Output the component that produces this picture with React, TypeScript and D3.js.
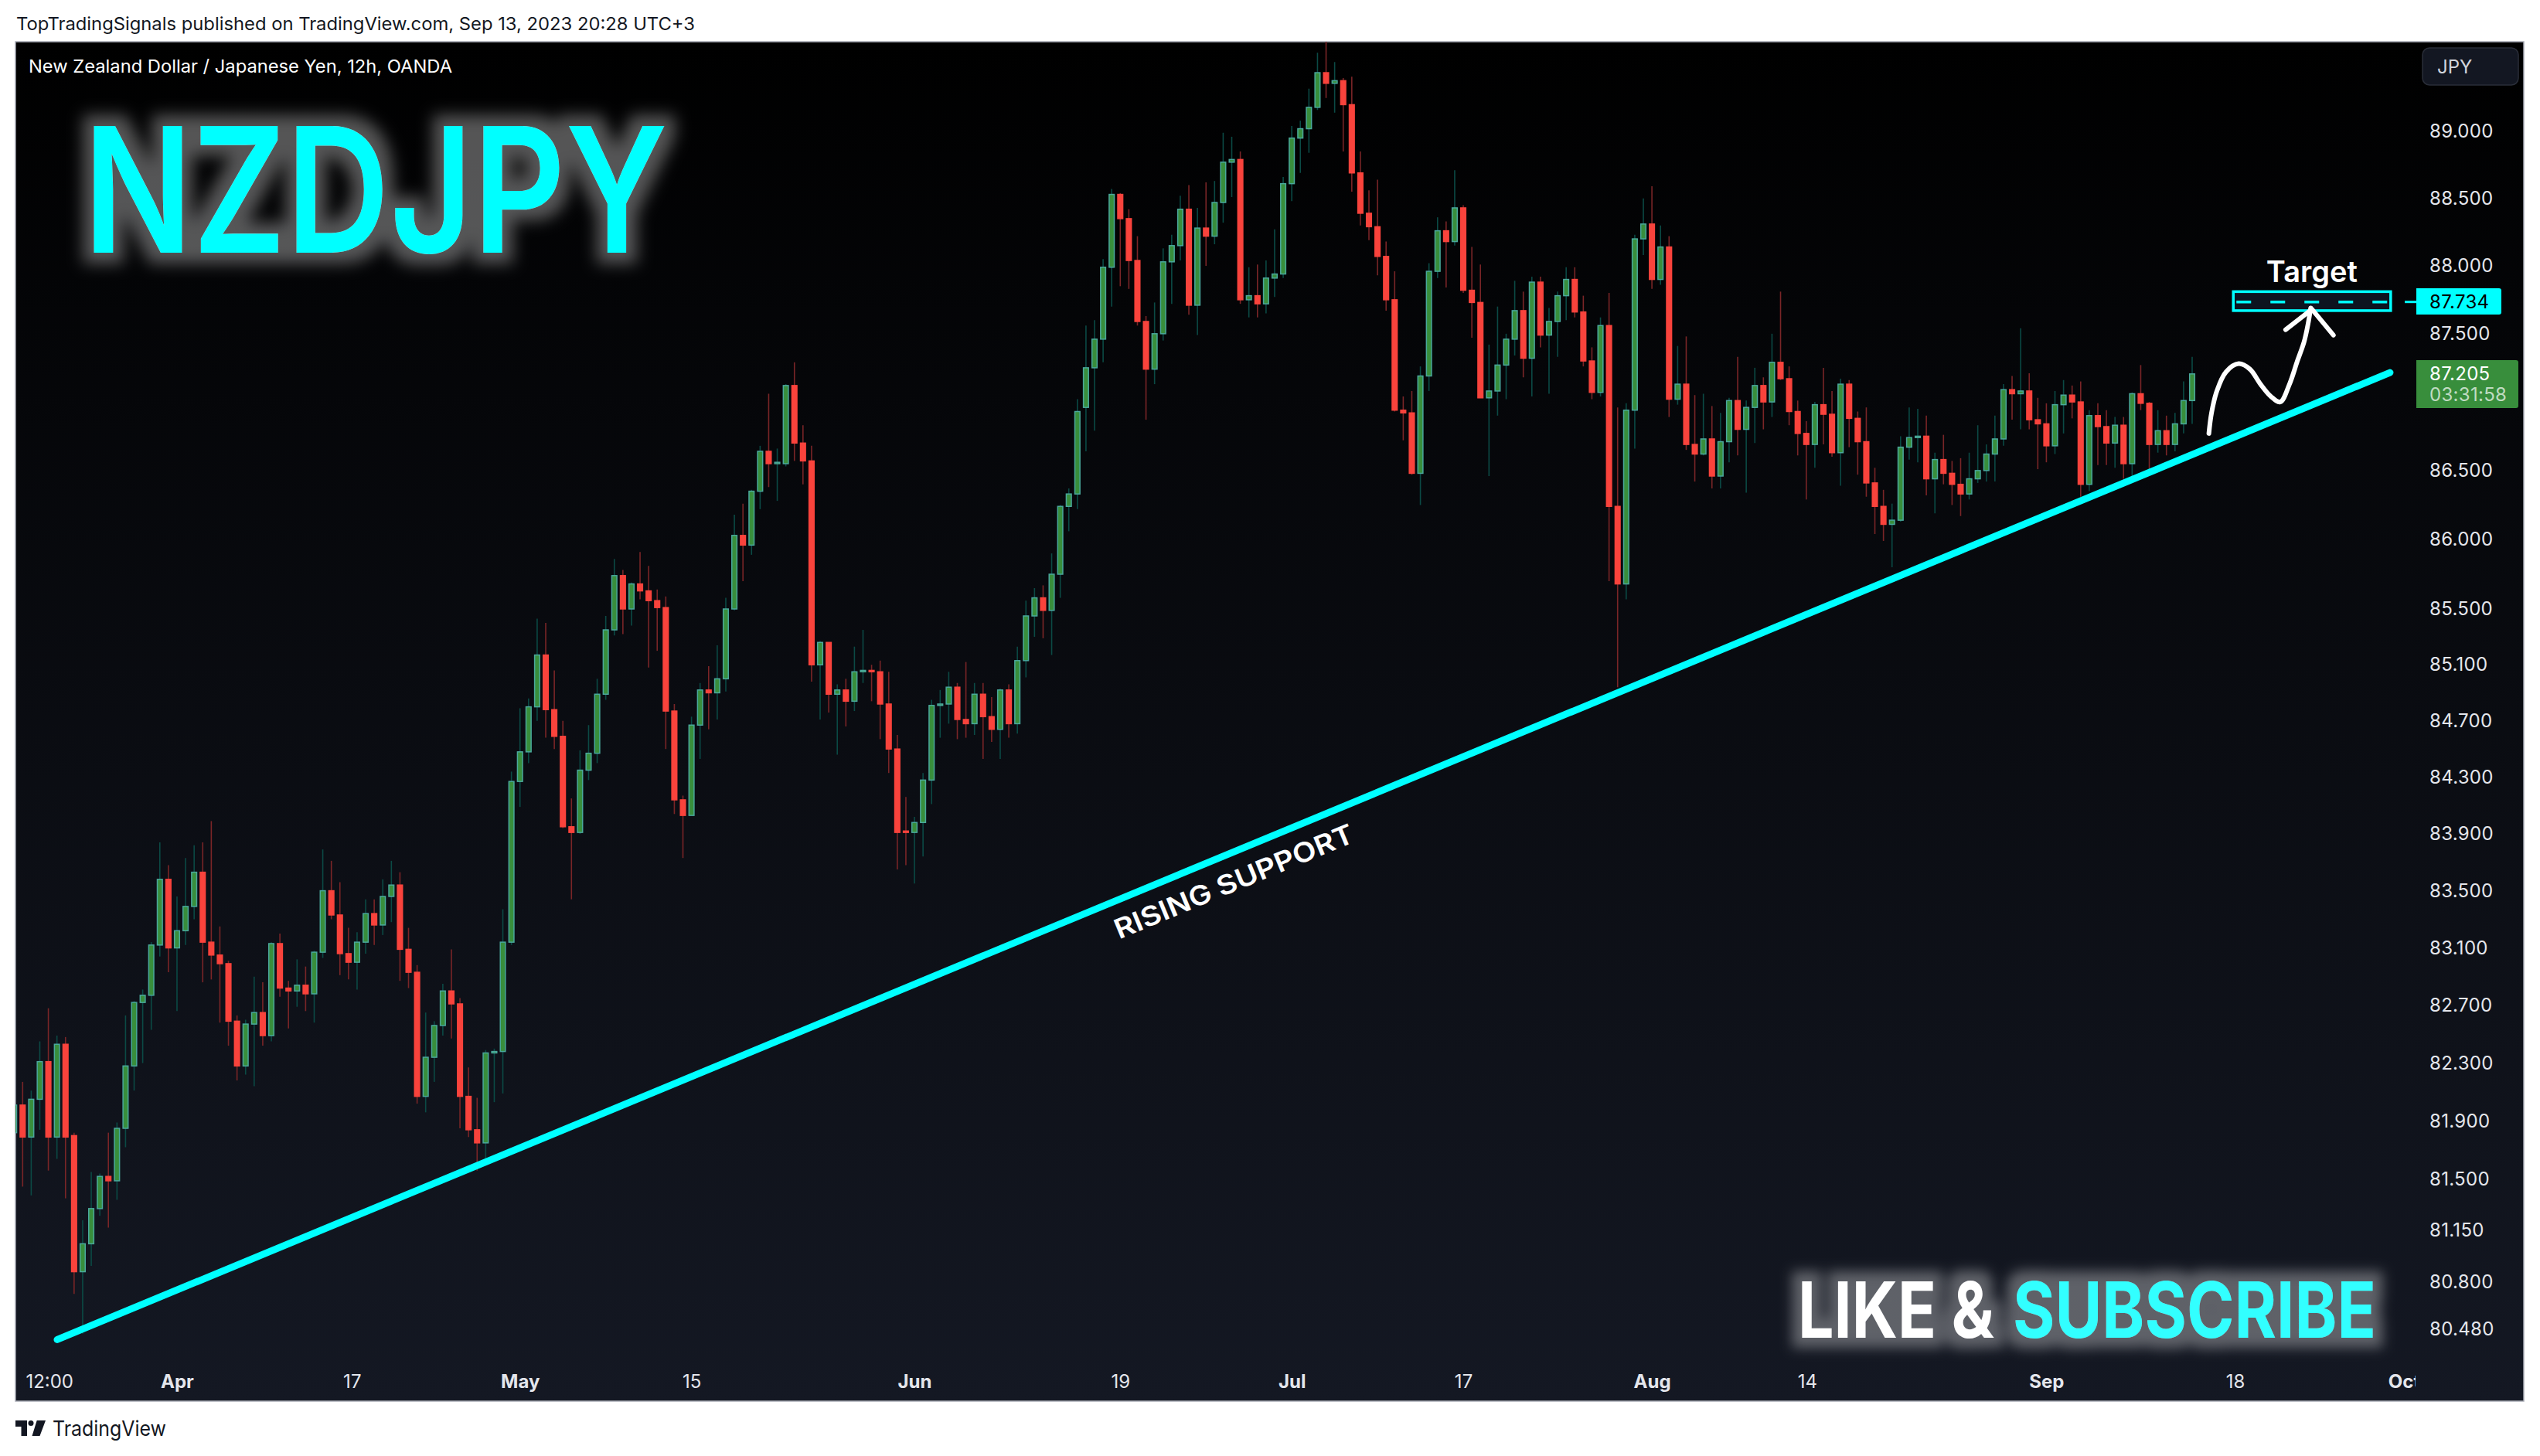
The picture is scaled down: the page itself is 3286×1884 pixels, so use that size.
import * as d3 from "d3";
import { useEffect, useRef } from "react";

const opens = [
  81.82,82.01,81.79,82.05,82.31,81.79,82.43,81.80,80.87,81.06,
  81.30,81.52,81.49,81.85,82.28,82.72,82.77,83.12,83.58,83.10,
  83.22,83.39,83.63,83.14,83.05,82.99,82.59,82.28,82.57,82.65,
  82.49,83.13,82.82,82.80,82.84,82.78,83.07,83.50,83.33,83.06,
  83.00,83.14,83.34,83.26,83.46,83.54,83.09,82.93,82.07,82.34,
  82.56,82.80,82.71,82.07,81.84,81.75,82.37,82.38,83.14,84.27,
  84.48,84.80,85.17,84.78,84.59,83.95,83.91,84.35,84.47,84.89,
  85.35,85.74,85.50,85.68,85.63,85.56,85.51,84.77,84.14,84.03,
  84.67,84.92,84.90,85.00,85.50,86.03,85.96,86.35,86.64,86.55,
  86.55,87.12,86.70,86.57,85.10,85.26,84.89,84.92,84.84,85.05,
  85.06,85.05,84.82,84.50,83.92,83.91,83.98,84.28,84.81,84.82,
  84.94,84.71,84.68,84.89,84.73,84.64,84.92,84.68,85.13,85.45,
  85.58,85.49,85.75,86.24,86.33,86.96,87.25,87.46,87.99,88.53,
  88.35,88.04,87.59,87.24,87.50,88.03,88.15,88.42,87.71,88.28,
  88.22,88.47,88.77,88.79,87.75,87.78,87.72,87.91,87.94,88.61,
  88.95,89.02,89.18,89.44,89.36,89.38,89.20,88.69,88.39,88.29,
  88.07,87.75,86.94,86.92,86.48,87.19,87.96,88.26,88.18,88.43,
  87.82,87.73,87.03,87.08,87.27,87.46,87.67,87.32,87.88,87.49,
  87.59,87.78,87.90,87.66,87.30,87.07,87.56,86.24,85.68,86.94,
  88.20,88.31,87.90,88.14,87.02,87.13,86.69,86.62,86.73,86.46,
  86.71,87.01,86.80,86.96,87.12,87.00,87.29,87.17,86.93,86.77,
  86.69,86.98,86.91,86.63,87.13,86.88,86.71,86.41,86.24,86.11,
  86.14,86.67,86.74,86.75,86.44,86.58,86.48,86.40,86.33,86.44,
  86.50,86.62,86.73,87.09,87.06,87.08,86.87,86.84,86.68,86.98,
  87.05,87.00,86.40,86.90,86.82,86.70,86.83,86.55,87.06,86.99,
  86.69,86.79,86.69,86.84,87.01,
];

const closes = [
  82.01,81.79,82.05,82.31,81.79,82.43,81.79,80.87,81.06,81.30,
  81.52,81.49,81.85,82.28,82.72,82.77,83.12,83.58,83.10,83.22,
  83.39,83.63,83.14,83.05,82.99,82.59,82.28,82.57,82.65,82.49,
  83.13,82.82,82.80,82.84,82.78,83.07,83.50,83.33,83.06,83.00,
  83.14,83.34,83.26,83.46,83.54,83.09,82.93,82.07,82.34,82.56,
  82.80,82.71,82.07,81.84,81.75,82.37,82.38,83.14,84.27,84.48,
  84.80,85.17,84.78,84.59,83.95,83.91,84.35,84.47,84.89,85.35,
  85.74,85.50,85.68,85.63,85.56,85.51,84.77,84.14,84.03,84.67,
  84.92,84.90,85.00,85.50,86.03,85.96,86.35,86.64,86.55,86.56,
  87.12,86.70,86.57,85.10,85.26,84.89,84.92,84.84,85.05,85.06,
  85.05,84.82,84.50,83.91,83.91,83.98,84.28,84.81,84.82,84.94,
  84.71,84.68,84.89,84.73,84.64,84.92,84.68,85.13,85.45,85.58,
  85.49,85.75,86.24,86.33,86.93,87.25,87.46,87.99,88.53,88.35,
  88.04,87.59,87.24,87.50,88.03,88.15,88.42,87.71,88.28,88.22,
  88.47,88.77,88.79,87.75,87.78,87.72,87.91,87.94,88.61,88.95,
  89.02,89.18,89.44,89.36,89.38,89.20,88.69,88.39,88.29,88.07,
  87.75,86.94,86.92,86.48,87.19,87.96,88.26,88.18,88.43,87.82,
  87.73,87.03,87.08,87.27,87.46,87.67,87.32,87.88,87.49,87.59,
  87.78,87.90,87.66,87.30,87.07,87.56,86.24,85.68,86.94,88.20,
  88.31,87.90,88.14,87.02,87.13,86.69,86.62,86.73,86.46,86.71,
  87.01,86.80,86.96,87.12,87.00,87.29,87.17,86.93,86.77,86.69,
  86.98,86.91,86.63,87.13,86.88,86.71,86.41,86.24,86.11,86.14,
  86.67,86.74,86.75,86.44,86.58,86.48,86.40,86.33,86.44,86.50,
  86.62,86.73,87.09,87.06,87.08,86.87,86.84,86.68,86.98,87.05,
  87.00,86.40,86.90,86.82,86.70,86.83,86.55,87.06,86.99,86.69,
  86.79,86.69,86.84,87.01,87.205,
];

const highs = [
  82.06,82.17,82.11,82.45,82.68,82.49,82.48,81.82,81.22,81.55,
  81.54,81.82,81.89,82.63,82.73,82.81,83.14,83.84,83.68,83.46,
  83.73,83.82,83.84,83.99,83.25,83.01,82.63,82.60,82.90,82.86,
  83.14,83.20,82.87,83.02,82.97,83.08,83.79,83.71,83.56,83.24,
  83.21,83.44,83.44,83.58,83.71,83.63,83.24,82.98,82.65,82.59,
  82.85,83.09,82.75,82.27,82.06,82.39,82.40,83.37,84.34,84.79,
  84.86,85.43,85.40,85.06,84.70,84.15,84.49,84.67,85.00,85.45,
  85.86,85.78,85.69,85.91,85.81,85.64,85.59,84.82,84.17,84.73,
  84.97,85.09,85.24,85.58,86.18,86.26,86.36,86.68,87.06,86.66,
  87.13,87.29,86.83,86.68,85.27,85.26,84.96,85.00,85.23,85.35,
  85.10,85.13,85.05,84.60,84.16,84.02,84.33,84.85,84.92,85.05,
  84.97,85.12,84.97,84.97,84.87,84.93,84.96,85.23,85.56,85.65,
  85.67,85.90,86.25,86.37,87.02,87.56,87.60,88.05,88.57,88.54,
  88.42,88.22,87.63,87.73,88.13,88.23,88.52,88.60,88.43,88.62,
  88.63,88.99,88.96,88.85,87.99,88.01,88.04,88.27,88.66,89.04,
  89.08,89.32,89.59,89.72,89.52,89.40,89.41,88.85,88.56,88.64,
  88.18,87.96,87.04,87.08,87.26,88.02,88.36,88.33,88.71,88.45,
  88.14,88.01,87.42,87.70,87.50,87.89,87.81,87.92,87.92,87.69,
  87.81,87.99,87.99,87.78,87.40,87.62,87.80,86.96,86.99,88.23,
  88.50,88.59,88.30,88.22,87.41,87.48,87.05,87.06,86.97,86.92,
  87.03,87.33,87.01,87.25,87.18,87.50,87.81,87.26,87.01,86.86,
  87.00,87.25,87.08,87.17,87.16,86.93,86.96,86.52,86.36,86.26,
  86.75,86.96,86.95,86.90,86.63,86.76,86.57,86.59,86.63,86.83,
  86.69,86.90,87.13,87.19,87.54,87.21,87.03,86.99,87.08,87.16,
  87.12,87.15,86.94,86.99,86.94,86.89,86.89,87.07,87.27,87.00,
  86.94,86.90,86.92,87.15,87.33,
];

const lows = [
  81.76,81.45,81.39,81.84,81.56,81.64,81.37,80.72,80.45,80.91,
  81.25,81.17,81.36,81.72,82.11,82.30,82.53,83.04,82.93,82.66,
  83.12,83.30,82.86,82.88,82.58,82.42,82.18,82.22,82.14,82.42,
  82.45,82.76,82.54,82.69,82.66,82.58,83.03,83.30,82.91,82.88,
  82.81,83.06,83.12,83.19,83.28,82.87,82.82,82.02,81.96,82.17,
  82.49,82.47,81.85,81.79,81.56,81.64,82.03,82.09,83.12,84.09,
  84.40,84.70,84.58,84.50,83.94,83.44,83.90,84.28,84.40,84.85,
  85.31,85.32,85.38,85.57,85.08,85.20,84.50,84.04,83.73,84.03,
  84.43,84.64,84.71,84.91,85.49,85.70,85.89,86.22,86.38,86.28,
  86.53,86.57,86.40,84.98,84.71,84.76,84.46,84.66,84.77,84.97,
  84.84,84.57,84.33,83.65,83.68,83.55,83.74,84.11,84.58,84.68,
  84.57,84.58,84.60,84.43,84.55,84.43,84.58,84.61,85.01,85.30,
  85.29,85.17,85.58,86.06,86.22,86.64,86.79,87.29,87.70,87.85,
  87.83,87.56,86.87,87.13,87.45,87.72,88.04,87.64,87.49,88.00,
  88.16,88.32,88.51,87.72,87.62,87.62,87.65,87.77,87.91,88.48,
  88.69,88.84,89.16,89.25,89.14,88.85,88.55,88.30,88.19,87.93,
  87.67,86.93,86.72,86.47,86.25,87.08,87.91,87.84,88.15,87.80,
  87.47,87.03,86.46,86.90,87.02,87.34,87.18,87.04,87.40,87.06,
  87.33,87.60,87.62,87.26,87.02,87.04,85.70,84.94,85.57,86.66,
  88.08,87.83,87.86,86.89,86.98,86.65,86.42,86.61,86.37,86.37,
  86.56,86.61,86.34,86.70,86.80,86.89,87.16,86.83,86.61,86.29,
  86.52,86.69,86.60,86.39,86.67,86.47,86.31,86.04,85.99,85.80,
  86.13,86.58,86.56,86.32,86.19,86.40,86.25,86.17,86.29,86.41,
  86.42,86.42,86.68,86.87,86.80,86.80,86.51,86.56,86.62,86.77,
  86.88,86.31,86.35,86.54,86.54,86.52,86.44,86.42,86.94,86.48,
  86.63,86.61,86.64,86.77,86.84,
];

const priceTicks = [89, 88.5, 88, 87.5, 86.5, 86, 85.5, 85.1, 84.7, 84.3, 83.9, 83.5, 83.1, 82.7, 82.3, 81.9, 81.5, 81.15, 80.8, 80.48];
const timeLabels = ["12:00", "Apr", "17", "May", "15", "Jun", "19", "Jul", "17", "Aug", "14", "Sep", "18", "Oct"];
const timeTicks = [4.1, 19, 39.4, 59, 79, 105, 129, 149, 169, 191, 209.1, 237, 259, 278.7];
const boldLabels = ["Apr", "May", "Jun", "Jul", "Aug", "Sep", "Oct"];

const lastPrice = 87.205;
const countdown = "03:31:58";
const targetPrice = 87.734;
const targetBoxIdx = [258.8, 277.15];
const targetBoxPrice = [87.81, 87.67];

const supportIdx = [5.03, 277.07];
const supportPrice = [80.41, 87.215];

// hand drawn path towards the target, read as bar index / price
const curveIdx = [255.95, 256.26, 256.88, 257.95, 259.43, 260.73, 261.97, 263.18, 264.27, 265.35, 266.27, 267.05, 267.51, 267.82];
const curvePrice = [86.77, 86.92, 87.08, 87.22, 87.28, 87.24, 87.13, 87.04, 87.0, 87.13, 87.3, 87.44, 87.57, 87.69];
const headIdx = [264.9, 267.97, 270.47];
const headPrice = [87.53, 87.68, 87.49];

const FONT = "Inter, 'Noto Sans', sans-serif";
const width = 3286;
const height = 1884;
const panel = { left: 20, right: 3265, top: 54, bottom: 1813 };

const App = () => {
  const ref = useRef<SVGSVGElement | null>(null);

  useEffect(() => {
    const svg = d3.select(ref.current);
    svg.selectAll("*").remove();

    const x = d3.scaleLinear().domain([0, 254]).range([18.2, 2836]);
    const y = d3.scaleLog().domain([80.48, 89]).range([1720, 170]);

    const defs = svg.append("defs");
    const grad = defs
      .append("linearGradient")
      .attr("id", "bg")
      .attr("x1", 0)
      .attr("y1", 0)
      .attr("x2", 0)
      .attr("y2", 1);
    grad.append("stop").attr("offset", "0%").attr("stop-color", "#000000");
    grad.append("stop").attr("offset", "100%").attr("stop-color", "#141823");

    defs
      .append("clipPath")
      .attr("id", "plot")
      .append("rect")
      .attr("x", panel.left)
      .attr("y", panel.top)
      .attr("width", panel.right - panel.left)
      .attr("height", panel.bottom - panel.top);
    defs
      .append("clipPath")
      .attr("id", "timeClip")
      .append("rect")
      .attr("x", panel.left)
      .attr("y", 1765)
      .attr("width", 3125 - panel.left)
      .attr("height", 46);

    const makeGlow = (id: string, dilate: number, blur: number, opacity: number) => {
      const f = defs
        .append("filter")
        .attr("id", id)
        .attr("x", "-15%")
        .attr("y", "-60%")
        .attr("width", "130%")
        .attr("height", "220%");
      f.append("feMorphology").attr("in", "SourceAlpha").attr("operator", "dilate").attr("radius", dilate).attr("result", "d");
      f.append("feGaussianBlur").attr("in", "d").attr("stdDeviation", blur).attr("result", "b");
      f.append("feFlood").attr("flood-color", "#ffffff").attr("flood-opacity", opacity).attr("result", "c");
      f.append("feComposite").attr("in", "c").attr("in2", "b").attr("operator", "in").attr("result", "g");
      const m = f.append("feMerge");
      m.append("feMergeNode").attr("in", "g");
      m.append("feMergeNode").attr("in", "SourceGraphic");
    };
    makeGlow("glowBig", 14, 10, 0.33);
    makeGlow("glowSmall", 13, 8, 0.32);

    svg.append("rect").attr("width", width).attr("height", height).attr("fill", "#ffffff");

    svg
      .append("text")
      .attr("x", 21)
      .attr("y", 39)
      .attr("font-family", FONT)
      .attr("font-size", 23)
      .attr("fill", "#131722")
      .attr("textLength", 878)
      .attr("lengthAdjust", "spacingAndGlyphs")
      .text("TopTradingSignals published on TradingView.com, Sep 13, 2023 20:28 UTC+3");

    svg
      .append("rect")
      .attr("x", panel.left)
      .attr("y", panel.top)
      .attr("width", panel.right - panel.left)
      .attr("height", panel.bottom - panel.top)
      .attr("fill", "url(#bg)")
      .attr("stroke", "#a8abb5")
      .attr("stroke-width", 1.5);

    // candles
    const idx = d3.range(opens.length);
    const plot = svg.append("g").attr("clip-path", "url(#plot)");
    const isUp = (i: number) => closes[i] >= opens[i];

    plot
      .append("g")
      .selectAll("line")
      .data(idx)
      .join("line")
      .attr("x1", (i) => x(i))
      .attr("x2", (i) => x(i))
      .attr("y1", (i) => y(highs[i]))
      .attr("y2", (i) => y(lows[i]))
      .attr("stroke", (i) => (isUp(i) ? "#0b4a45" : "#7a2527"))
      .attr("stroke-width", 1.6);

    plot
      .append("g")
      .selectAll("rect")
      .data(idx)
      .join("rect")
      .attr("x", (i) => x(i) - 3.3)
      .attr("width", 6.6)
      .attr("y", (i) => y(Math.max(opens[i], closes[i])))
      .attr("height", (i) => Math.max(1.5, Math.abs(y(opens[i]) - y(closes[i]))))
      .attr("fill", (i) => (isUp(i) ? "#388e3c" : "#f9433c"))
      .attr("stroke", (i) => (isUp(i) ? "#4aa89c" : "#f9433c"))
      .attr("stroke-width", 1.5);

    // drawings
    const support = d3
      .line<number>()
      .x((i) => x(supportIdx[i]))
      .y((i) => y(supportPrice[i]));
    plot
      .append("path")
      .attr("d", support([0, 1]))
      .attr("fill", "none")
      .attr("stroke", "#00ffff")
      .attr("stroke-width", 9)
      .attr("stroke-linecap", "round");

    const supportAngle = (Math.atan2(y(supportPrice[0]) - y(supportPrice[1]), x(supportIdx[1]) - x(supportIdx[0])) * 180) / Math.PI;
    svg
      .append("text")
      .attr("transform", `translate(1596,1140) rotate(${-supportAngle})`)
      .attr("text-anchor", "middle")
      .attr("dominant-baseline", "central")
      .attr("font-family", FONT)
      .attr("font-size", 35)
      .attr("font-weight", 600)
      .attr("fill", "#ffffff")
      .attr("textLength", 332)
      .attr("lengthAdjust", "spacingAndGlyphs")
      .text("RISING SUPPORT");

    const tx0 = x(targetBoxIdx[0]);
    const tx1 = x(targetBoxIdx[1]);
    svg
      .append("rect")
      .attr("x", tx0)
      .attr("y", y(targetBoxPrice[0]))
      .attr("width", tx1 - tx0)
      .attr("height", y(targetBoxPrice[1]) - y(targetBoxPrice[0]))
      .attr("fill", "#0d1420")
      .attr("stroke", "#00ffff")
      .attr("stroke-width", 3.5);
    svg
      .append("line")
      .attr("x1", tx0 + 4)
      .attr("x2", tx1 - 4)
      .attr("y1", y(targetPrice))
      .attr("y2", y(targetPrice))
      .attr("stroke", "#00ffff")
      .attr("stroke-width", 3.5)
      .attr("stroke-dasharray", "19 25");

    svg
      .append("text")
      .attr("x", x(267.96))
      .attr("y", 365)
      .attr("text-anchor", "middle")
      .attr("font-family", FONT)
      .attr("font-size", 38)
      .attr("font-weight", 600)
      .attr("fill", "#ffffff")
      .text("Target");

    const curve = d3
      .line<number>()
      .x((i) => x(curveIdx[i]))
      .y((i) => y(curvePrice[i]))
      .curve(d3.curveCatmullRom);
    svg
      .append("path")
      .attr("d", curve(d3.range(curveIdx.length)))
      .attr("fill", "none")
      .attr("stroke", "#ffffff")
      .attr("stroke-width", 6)
      .attr("stroke-linecap", "round");
    const head = d3
      .line<number>()
      .x((i) => x(headIdx[i]))
      .y((i) => y(headPrice[i]));
    svg
      .append("path")
      .attr("d", head([0, 1, 2]))
      .attr("fill", "none")
      .attr("stroke", "#ffffff")
      .attr("stroke-width", 6)
      .attr("stroke-linecap", "round")
      .attr("stroke-linejoin", "round");

    // price axis
    const yAxis = svg
      .append("g")
      .attr("transform", "translate(3143,0)")
      .call(d3.axisRight(y).tickValues(priceTicks).tickFormat(d3.format(".3f")).tickSize(0).tickPadding(0));
    yAxis.select(".domain").remove();
    yAxis
      .selectAll("text")
      .attr("font-family", FONT)
      .attr("font-size", 24)
      .attr("letter-spacing", 0.3)
      .attr("fill", "#e4e6ec");

    // time axis
    const timeAxis = svg
      .append("g")
      .attr("clip-path", "url(#timeClip)")
      .append("g")
      .attr("transform", "translate(0,1779)")
      .call(
        d3
          .axisBottom(x)
          .tickValues(timeTicks)
          .tickFormat((_, i) => timeLabels[i])
          .tickSize(0)
          .tickPadding(0)
      );
    timeAxis.select(".domain").remove();
    timeAxis
      .selectAll("text")
      .attr("font-family", FONT)
      .attr("font-size", 24)
      .attr("dy", "0.72em")
      .attr("font-weight", function () {
        return boldLabels.includes(d3.select(this).text()) ? 700 : 400;
      })
      .attr("fill", "#e4e6ec");

    // price labels
    svg
      .append("line")
      .attr("x1", 3111)
      .attr("x2", 3127)
      .attr("y1", y(targetPrice))
      .attr("y2", y(targetPrice))
      .attr("stroke", "#00ffff")
      .attr("stroke-width", 3);
    svg
      .append("path")
      .attr("d", `M3126 373H3233a3 3 0 0 1 3 3V404a3 3 0 0 1-3 3H3126Z`)
      .attr("fill", "#00ffff");
    svg
      .append("text")
      .attr("x", 3143)
      .attr("y", y(targetPrice))
      .attr("dy", "0.33em")
      .attr("font-family", FONT)
      .attr("font-size", 24)
      .attr("letter-spacing", 0.3)
      .attr("fill", "#000000")
      .text(d3.format(".3f")(targetPrice));

    svg
      .append("path")
      .attr("d", `M3126 466H3255a3 3 0 0 1 3 3V525a3 3 0 0 1-3 3H3126Z`)
      .attr("fill", "#388e3c");
    svg
      .append("text")
      .attr("x", 3143)
      .attr("y", y(lastPrice))
      .attr("dy", "0.33em")
      .attr("font-family", FONT)
      .attr("font-size", 24)
      .attr("letter-spacing", 0.3)
      .attr("fill", "#ffffff")
      .text(d3.format(".3f")(lastPrice));
    svg
      .append("text")
      .attr("x", 3143)
      .attr("y", y(lastPrice) + 27)
      .attr("dy", "0.33em")
      .attr("font-family", FONT)
      .attr("font-size", 24)
      .attr("letter-spacing", 0.3)
      .attr("fill", "#c0dcc2")
      .text(countdown);

    // currency button
    svg
      .append("rect")
      .attr("x", 3134)
      .attr("y", 62)
      .attr("width", 124)
      .attr("height", 48)
      .attr("rx", 9)
      .attr("fill", "#131722")
      .attr("stroke", "#2a2e39")
      .attr("stroke-width", 1.5);
    svg
      .append("text")
      .attr("x", 3153)
      .attr("y", 95)
      .attr("font-family", FONT)
      .attr("font-size", 24)
      .attr("fill", "#d1d4dc")
      .text("JPY");

    // titles
    svg
      .append("text")
      .attr("x", 37)
      .attr("y", 94)
      .attr("font-family", FONT)
      .attr("font-size", 23)
      .attr("fill", "#ffffff")
      .attr("textLength", 548)
      .attr("lengthAdjust", "spacingAndGlyphs")
      .text("New Zealand Dollar / Japanese Yen, 12h, OANDA");

    svg
      .append("text")
      .attr("x", 108)
      .attr("y", 327)
      .attr("font-family", FONT)
      .attr("font-size", 226)
      .attr("font-weight", 600)
      .attr("fill", "#00ffff")
      .attr("textLength", 756)
      .attr("lengthAdjust", "spacingAndGlyphs")
      .attr("filter", "url(#glowBig)")
      .text("NZDJPY");

    svg
      .append("text")
      .attr("x", 2326)
      .attr("y", 1731)
      .attr("font-family", FONT)
      .attr("font-size", 100)
      .attr("font-weight", 700)
      .attr("fill", "#ffffff")
      .attr("textLength", 254)
      .attr("lengthAdjust", "spacingAndGlyphs")
      .attr("filter", "url(#glowSmall)")
      .text("LIKE &");
    svg
      .append("text")
      .attr("x", 2604)
      .attr("y", 1731)
      .attr("font-family", FONT)
      .attr("font-size", 100)
      .attr("font-weight", 700)
      .attr("fill", "#33ffff")
      .attr("textLength", 470)
      .attr("lengthAdjust", "spacingAndGlyphs")
      .attr("filter", "url(#glowSmall)")
      .text("SUBSCRIBE");

    // footer logo
    svg
      .append("path")
      .attr("d", "M20 1838H35V1858H27.5V1846H20Z M47.7 1838H59L51.5 1858H41.5Z")
      .attr("fill", "#131722");
    svg.append("circle").attr("cx", 40).attr("cy", 1841.5).attr("r", 3.5).attr("fill", "#131722");
    svg
      .append("text")
      .attr("x", 68)
      .attr("y", 1858)
      .attr("font-family", FONT)
      .attr("font-size", 27)
      .attr("fill", "#131722")
      .attr("textLength", 147)
      .attr("lengthAdjust", "spacingAndGlyphs")
      .text("TradingView");
  }, []);

  return (
    <svg
      ref={ref}
      width={width}
      height={height}
      style={{ position: "absolute", left: 0, top: 0, display: "block" }}
    ></svg>
  );
};

export default App;
